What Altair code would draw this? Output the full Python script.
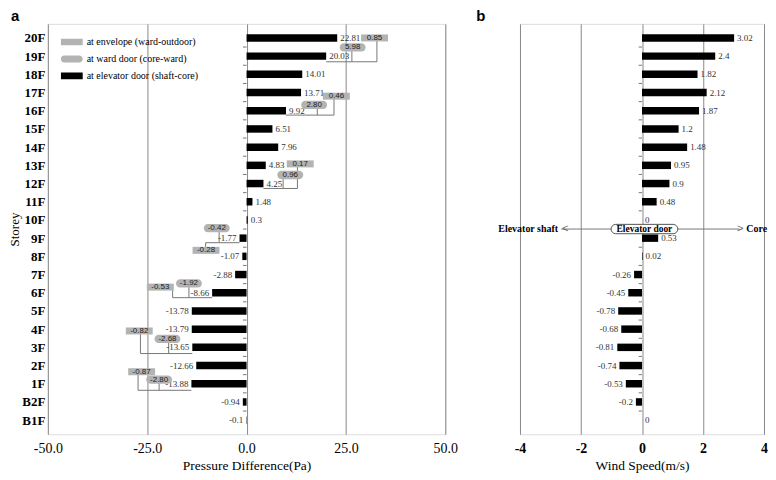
import json
import altair as alt
import pandas as pd

# ---------------- data ----------------
storeys = ["20F", "19F", "18F", "17F", "16F", "15F", "14F", "13F", "12F", "11F", "10F",
           "9F", "8F", "7F", "6F", "5F", "4F", "3F", "2F", "1F", "B2F", "B1F"]
pressure = [22.81, 20.03, 14.01, 13.71, 9.92, 6.51, 7.96, 4.83, 4.25, 1.48, 0.3,
            -1.77, -1.07, -2.88, -8.66, -13.78, -13.79, -13.65, -12.66, -13.88, -0.94, -0.1]
wind = [3.02, 2.4, 1.82, 2.12, 1.87, 1.2, 1.48, 0.95, 0.9, 0.48, 0,
        0.53, 0.02, -0.26, -0.45, -0.78, -0.68, -0.81, -0.74, -0.53, -0.2, 0]

# annotations (panel a): envelope boxes, ward-door ovals, connecting brackets
env_text = ["0.85", "0.46", "0.17", "-0.28", "-0.53", "-0.82", "-0.87"]
env_x = [32.2, 22.6, 13.5, -10.2, -21.7, -27.0, -26.4]
env_row = [0.0, 3.2, 6.92, 11.67, 13.69, 16.1, 18.34]
ward_text = ["5.98", "2.80", "0.96", "-0.42", "-1.92", "-2.68", "-2.80"]
ward_x = [26.7, 17.0, 11.0, -7.5, -14.5, -19.9, -22.0]
ward_row = [0.52, 3.68, 7.53, 10.45, 13.49, 16.54, 18.77]
brk_row = [1.31, 4.24, 8.27, 11.25, 14.27, 17.34, 19.36]
brk_from = [20.03, 9.92, 4.25, -1.77, -8.66, -13.65, -13.88]
brk_env_x = [32.8, 22.0, 12.8, -10.3, -18.6, -26.7, -27.3]
brk_ward_x = [26.5, 17.8, 9.2, -6.9, -14.5, -19.6, -22.0]

legend_labels = ["at envelope (ward-outdoor)", "at ward door (core-ward)",
                 "at elevator door (shaft-core)"]

# annotation (panel b): direction arrow
arrow_text = ["Elevator shaft", "Elevator door", "Core"]
arrow_x = [-2.75, 0.08, 3.42]
arrow_row = 10.5
arrow_span = [-2.65, 3.2]
chevron_text = ["<", ">"]
chevron_x = [-2.52, 3.22]

left_ticks = [-50, -25, 0, 25, 50]
right_ticks = [-4, -2, 0, 2, 4]

# ---------------- helpers ----------------
rows = list(range(len(storeys)))
tick_rows = [k + 0.5 for k in range(len(storeys) - 1)]


def lab(v):
    return f"{v:g}"


SERIF = "Liberation Serif"
SANS = "Liberation Sans"
GRID = "#888888"
BOXGRAY = "#b3b3b3"
LINEGRAY = "#777777"

RECT_PATH = "M-1,-0.26L1,-0.26L1,0.26L-1,0.26Z"
LEG_RECT_PATH = "M-1,-0.3L1,-0.3L1,0.3L-1,0.3Z"
OVAL_PATH = ("M-0.68,-0.32L0.68,-0.32A0.32,0.32,0,0,1,0.68,0.32"
             "L-0.68,0.32A0.32,0.32,0,0,1,-0.68,-0.32Z")
PILL_PATH = ("M-0.86,-0.14L0.86,-0.14A0.14,0.14,0,0,1,0.86,0.14"
             "L-0.86,0.14A0.14,0.14,0,0,1,-0.86,-0.14Z")

H = 412
y_sc = alt.Scale(domain=[-0.5, len(storeys) - 0.5], reverse=True, nice=False, zero=False)

left_y_axis = alt.Axis(values=rows, labelExpr=f"{json.dumps(storeys)}[datum.value]",
                       title="Storey", grid=False, ticks=False, domain=False,
                       labelFont=SERIF, labelFontSize=13, labelFontWeight="bold",
                       labelColor="black", labelPadding=3,
                       titleFont=SERIF, titleFontSize=13, titleFontWeight="normal",
                       titleColor="black", titlePadding=0)

x_left = alt.Scale(domain=[-50, 50], nice=False, zero=False)
left_x_axis = alt.Axis(values=left_ticks,
                       labelExpr="(datum.value < 0 ? '-' : '') + format(abs(datum.value), '.1f')",
                       title="Pressure Difference(Pa)", grid=True, gridColor=GRID,
                       gridOpacity=1, gridWidth=1, ticks=False, domain=False,
                       labelFont=SERIF, labelFontSize=14, labelColor="black",
                       labelPadding=7, labelFlush=False, labelOverlap=False,
                       titleFont=SERIF, titleFontSize=13.5, titleFontWeight="normal",
                       titleColor="black", titlePadding=3)

x_right = alt.Scale(domain=[-4, 4], nice=False, zero=False)
right_x_axis = alt.Axis(values=right_ticks,
                        labelExpr="(datum.value < 0 ? '-' : '') + format(abs(datum.value), 'd')",
                        title="Wind Speed(m/s)", grid=True, gridColor=GRID,
                        gridOpacity=1, gridWidth=1, ticks=False, domain=False,
                        labelFont=SERIF, labelFontSize=14, labelFontWeight="bold",
                        labelColor="black", labelPadding=7, labelFlush=False,
                        labelOverlap=False,
                        titleFont=SERIF, titleFontSize=13.5, titleFontWeight="normal",
                        titleColor="black", titlePadding=3)

YL = alt.Y("row:Q", scale=y_sc, axis=left_y_axis)
YR = alt.Y("row:Q", scale=y_sc, axis=None)
XL = alt.X("x:Q", scale=x_left, axis=left_x_axis)
XR = alt.X("x:Q", scale=x_right, axis=right_x_axis)

# ---------------- panel a ----------------
bars_a = pd.DataFrame({"row": rows, "x": pressure, "x2": [0] * len(rows),
                       "label": [lab(v) for v in pressure]})
ticks_a = pd.DataFrame({"row": tick_rows, "x": [-0.9] * len(tick_rows), "x2": [0] * len(tick_rows)})
brk_h = pd.DataFrame({"row": brk_row, "x": brk_from, "x2": brk_env_x})
brk_v = pd.DataFrame({"row": brk_row + brk_row,
                      "row2": env_row + ward_row,
                      "x": brk_env_x + brk_ward_x})
env_df = pd.DataFrame({"row": env_row, "x": env_x, "label": env_text})
ward_df = pd.DataFrame({"row": ward_row, "x": ward_x, "label": ward_text})
leg_df = pd.DataFrame({"kind": legend_labels, "x": [0, 0, 0], "row": [0, 0, 0]})

leg = alt.Legend(title=None, orient="none", legendX=13, legendY=10, symbolSize=484,
                 clipHeight=16.5, rowPadding=0, padding=0, labelFont=SERIF,
                 labelFontSize=10, labelColor="black", labelOffset=4,
                 symbolOpacity=1, symbolStrokeWidth=0, labelLimit=400)

la_ticks = alt.Chart(ticks_a).mark_rule(color=LINEGRAY, strokeWidth=1).encode(
    x=XL, x2="x2:Q", y=YL)
la_brk_h = alt.Chart(brk_h).mark_rule(color=LINEGRAY, strokeWidth=1).encode(
    x=XL, x2="x2:Q", y=YL)
la_brk_v = alt.Chart(brk_v).mark_rule(color=LINEGRAY, strokeWidth=1).encode(
    x=XL, y=YL, y2="row2:Q")
la_bars = alt.Chart(bars_a).mark_bar(color="black", size=7.5, orient="horizontal").encode(
    x=XL, x2="x2:Q", y=YL)
la_lab_pos = alt.Chart(bars_a).transform_filter("datum.x >= 0").mark_text(
    align="left", baseline="middle", dx=3, font=SERIF, fontSize=9, color="#333333").encode(
    x=XL, y=YL, text="label:N")
la_lab_neg = alt.Chart(bars_a).transform_filter("datum.x < 0").mark_text(
    align="right", baseline="middle", dx=-3, font=SERIF, fontSize=9, color="#333333").encode(
    x=XL, y=YL, text="label:N")
la_env = alt.Chart(env_df).mark_point(shape=RECT_PATH, size=729, filled=True,
                                      color=BOXGRAY, opacity=1, strokeWidth=0).encode(x=XL, y=YL)
la_ward = alt.Chart(ward_df).mark_point(shape=OVAL_PATH, size=676, filled=True,
                                        color=BOXGRAY, opacity=1, strokeWidth=0).encode(x=XL, y=YL)
la_env_t = alt.Chart(env_df).mark_text(font=SANS, fontSize=8, color="#222222",
                                       baseline="middle").encode(x=XL, y=YL, text="label:N")
la_ward_t = alt.Chart(ward_df).mark_text(font=SANS, fontSize=8, color="#222222",
                                         baseline="middle").encode(x=XL, y=YL, text="label:N")
la_leg = alt.Chart(leg_df).mark_point(filled=True, opacity=0).encode(
    x=XL, y=YL,
    color=alt.Color("kind:N", scale=alt.Scale(domain=legend_labels,
                                              range=[BOXGRAY, BOXGRAY, "#000000"]), legend=leg),
    shape=alt.Shape("kind:N", scale=alt.Scale(domain=legend_labels,
                                              range=[LEG_RECT_PATH, OVAL_PATH, LEG_RECT_PATH]),
                    legend=leg))

panel_a = alt.layer(la_ticks, la_brk_h, la_brk_v, la_bars, la_lab_pos, la_lab_neg,
                    la_env, la_ward, la_env_t, la_ward_t, la_leg).properties(
    width=399, height=H,
    title=alt.TitleParams("a", anchor="start", frame="group", dx=-37, offset=0,
                          font=SANS, fontSize=15, fontWeight="bold", color="black"))

# ---------------- panel b ----------------
bars_b = pd.DataFrame({"row": rows, "x": wind, "x2": [0] * len(rows),
                       "label": [lab(v) for v in wind]})
ticks_b = pd.DataFrame({"row": tick_rows, "x": [-0.11] * len(tick_rows), "x2": [0] * len(tick_rows)})
arrow_line = pd.DataFrame({"row": [arrow_row], "x": [arrow_span[0]], "x2": [arrow_span[1]]})
chev_df = pd.DataFrame({"row": [arrow_row] * 2, "x": chevron_x, "label": chevron_text})
arrow_df = pd.DataFrame({"row": [arrow_row] * 3, "x": arrow_x, "label": arrow_text})

lb_ticks = alt.Chart(ticks_b).mark_rule(color=LINEGRAY, strokeWidth=1).encode(
    x=XR, x2="x2:Q", y=YR)
lb_bars = alt.Chart(bars_b).mark_bar(color="black", size=7.5, orient="horizontal").encode(
    x=XR, x2="x2:Q", y=YR)
lb_lab_pos = alt.Chart(bars_b).transform_filter("datum.x >= 0").mark_text(
    align="left", baseline="middle", dx=3, font=SERIF, fontSize=9, color="#333333").encode(
    x=XR, y=YR, text="label:N")
lb_lab_neg = alt.Chart(bars_b).transform_filter("datum.x < 0").mark_text(
    align="right", baseline="middle", dx=-3, font=SERIF, fontSize=9, color="#333333").encode(
    x=XR, y=YR, text="label:N")
lb_arrow = alt.Chart(arrow_line).mark_rule(color=LINEGRAY, strokeWidth=1).encode(
    x=XR, x2="x2:Q", y=YR)
lb_chev = alt.Chart(chev_df).mark_text(font=SANS, fontSize=11, color="#666666",
                                       baseline="middle").encode(x=XR, y=YR, text="label:N")
lb_pill = alt.Chart(arrow_df).transform_filter(alt.datum.label == "Elevator door").mark_point(
    shape=PILL_PATH, size=4489, filled=False, fill="white", stroke="#555555",
    strokeWidth=1, opacity=1).encode(x=XR, y=YR)
lb_t_left = alt.Chart(arrow_df).transform_filter(alt.datum.label == "Elevator shaft").mark_text(
    align="right", baseline="middle", font=SERIF, fontSize=10, fontWeight="bold",
    color="black").encode(x=XR, y=YR, text="label:N")
lb_t_mid = alt.Chart(arrow_df).transform_filter(alt.datum.label == "Elevator door").mark_text(
    align="center", baseline="middle", font=SERIF, fontSize=9.5, fontWeight="bold",
    color="black").encode(x=XR, y=YR, text="label:N")
lb_t_right = alt.Chart(arrow_df).transform_filter(alt.datum.label == "Core").mark_text(
    align="left", baseline="middle", font=SERIF, fontSize=10, fontWeight="bold",
    color="black").encode(x=XR, y=YR, text="label:N")

panel_b = alt.layer(lb_ticks, lb_bars, lb_lab_pos, lb_lab_neg, lb_arrow, lb_chev,
                    lb_pill, lb_t_left, lb_t_mid, lb_t_right).properties(
    width=245, height=H,
    title=alt.TitleParams("b", anchor="start", frame="group", dx=-44, offset=0,
                          font=SANS, fontSize=15, fontWeight="bold", color="black"))

chart = alt.hconcat(panel_a, panel_b, spacing=75, bounds="flush").properties(
    padding={"left": 0, "top": -1, "right": 0, "bottom": 0}
).configure_view(stroke=GRID, strokeWidth=1).configure(background="white")

chart.save("out.html", embed_options={"renderer": "svg", "actions": False})
